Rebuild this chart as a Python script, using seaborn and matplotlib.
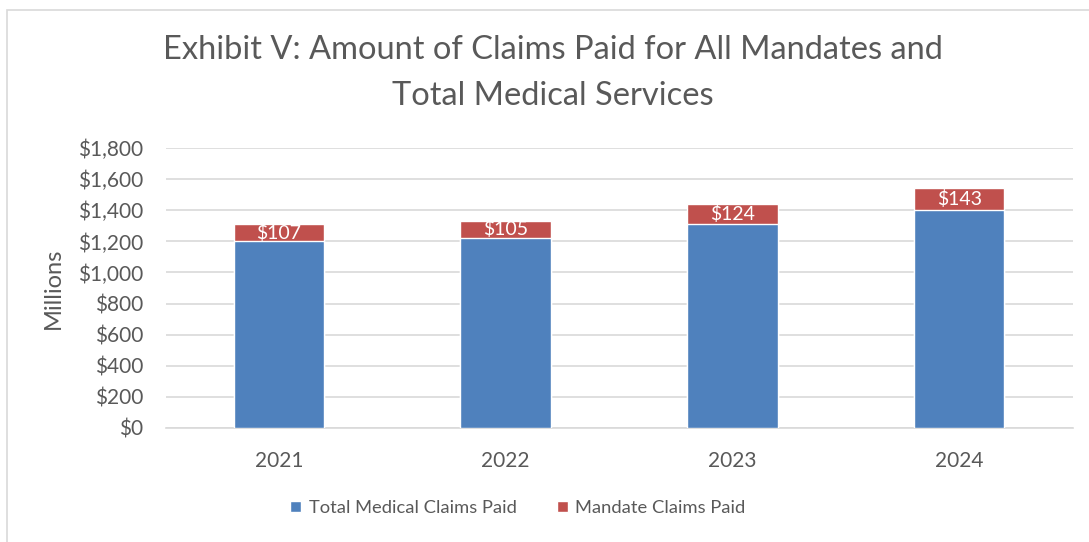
import matplotlib
matplotlib.use("Agg")
import matplotlib.pyplot as plt
import seaborn as sns
import pandas as pd
from matplotlib.patches import Rectangle, Patch
from matplotlib.ticker import FuncFormatter

years = ["2021", "2022", "2023", "2024"]
total_medical = [1203, 1225, 1315, 1400]
mandate = [107, 105, 124, 143]
mandate_labels = ["$107", "$105", "$124", "$143"]

blue = "#4F81BD"
red = "#C0504D"
gray = "#595959"

sns.set_theme(style="white")
plt.rcParams["font.family"] = ["Lato", "DejaVu Sans"]

fig = plt.figure(figsize=(10.89, 5.42), dpi=100)
ax = fig.add_axes([165.5 / 1089, 1 - 427.7 / 542, (1072.5 - 165.5) / 1089, (427.7 - 148.3) / 542])

fig.patches.append(Rectangle((7 / 1089, -0.01), 1.02, 1 - 10 / 542 + 0.01,
                             transform=fig.transFigure, fill=False,
                             edgecolor="#D9D9D9", linewidth=1.2))

df = pd.DataFrame({"year": years, "total": [a + b for a, b in zip(total_medical, mandate)],
                   "medical": total_medical})
sns.barplot(data=df, x="year", y="total", color=red, width=0.4, saturation=1, ax=ax, zorder=2)
sns.barplot(data=df, x="year", y="medical", color=blue, width=0.4, saturation=1, ax=ax, zorder=3)

for i, (m, lab) in enumerate(zip(total_medical, mandate_labels)):
    ax.text(i, m + mandate[i] / 2, lab, ha="center", va="center", color="white",
            fontsize=14, zorder=5)

ax.set_ylim(0, 1800)
ax.set_yticks(range(0, 1801, 200))
ax.yaxis.set_major_formatter(FuncFormatter(lambda v, p: f"${int(v):,}"))
ax.set_xlim(-0.5, 3.5)
ax.grid(axis="y", color="#D9D9D9", linewidth=1.2, zorder=0)
ax.set_axisbelow(True)
for s in ["top", "right", "left"]:
    ax.spines[s].set_visible(False)
ax.spines["bottom"].set_color("#D9D9D9")
ax.spines["bottom"].set_linewidth(1.2)
ax.tick_params(axis="both", length=0, labelsize=15, labelcolor=gray)
ax.tick_params(axis="y", pad=16)
ax.tick_params(axis="x", pad=17)
ax.set_xlabel("")
ax.set_ylabel("Millions", fontsize=17, color=gray, labelpad=10)

fig.text(553 / 1089, 1 - 50 / 542, "Exhibit V: Amount of Claims Paid for All Mandates and",
         ha="center", va="center", fontsize=23.5, color=gray)
fig.text(553 / 1089, 1 - 96 / 542, "Total Medical Services",
         ha="center", va="center", fontsize=23.5, color=gray)

handles = [Patch(facecolor=blue, label="Total Medical Claims Paid"),
           Patch(facecolor=red, label="Mandate Claims Paid")]
fig.legend(handles=handles, loc="center", bbox_to_anchor=(518 / 1089, 1 - 508 / 542),
           ncol=2, frameon=False, fontsize=13.2, labelcolor=gray, handlelength=0.6,
           handleheight=0.6, handletextpad=0.4, columnspacing=2.2)

fig.savefig("out.png", dpi=100)
